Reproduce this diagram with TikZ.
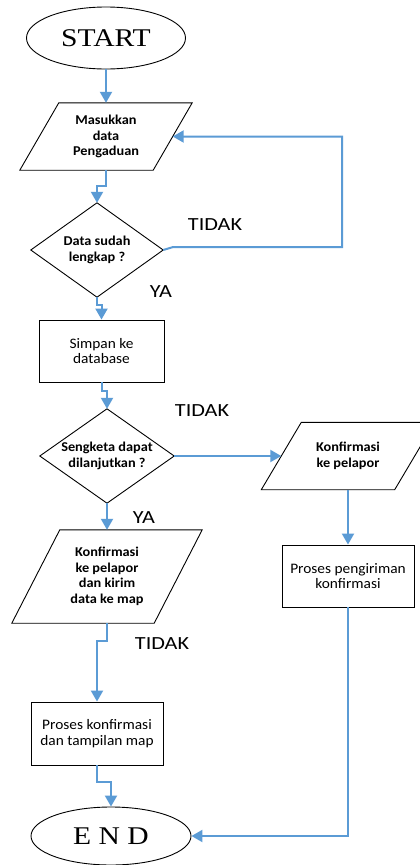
\documentclass[tikz,border=0pt]{standalone}
\usepackage{fontspec}
\setmainfont{Carlito}
\newfontfamily\bodyfont[FakeStretch=1.06]{Carlito}
\newfontfamily\labelfont[FakeStretch=1.2]{Carlito}
\newfontfamily\termfont[FakeStretch=1.16]{Liberation Serif}
\usetikzlibrary{shapes.geometric,arrows.meta}
\definecolor{flowblue}{RGB}{91,155,213}
\tikzset{
  outline/.style={draw=black, line width=0.9pt},
  terminal/.style={ellipse, outline, inner sep=0pt, font=\termfont\fontsize{25.5}{28}\selectfont},
  procbox/.style={rectangle, outline, inner sep=0pt, align=center, font=\bodyfont\fontsize{14.5}{15.5}\selectfont},
  iobox/.style={rectangle, inner sep=0pt, align=center, font=\bodyfont\bfseries\fontsize{13.5}{15.5}\selectfont},
  decbox/.style={rectangle, inner sep=0pt, align=center, font=\bodyfont\bfseries\fontsize{13.5}{15.5}\selectfont},
  answer/.style={inner sep=0pt, font=\labelfont\fontsize{18.5}{20}\selectfont},
  flow/.style={draw=flowblue, line width=2pt, -{Triangle[length=11pt,width=12pt]}},
}
% parallelogram drawn around a rectangular node, top edge shifted right
\newcommand{\slantframe}[2]{%
  \draw[outline] ([xshift=#2]#1.north west) -- ([xshift=#2]#1.north east)
    -- ([xshift=-#2]#1.south east) -- ([xshift=-#2]#1.south west) -- cycle;}
% diamond drawn through the side midpoints of a rectangular node
\newcommand{\diamondframe}[1]{%
  \draw[outline] (#1.north) -- (#1.east) -- (#1.south) -- (#1.west) -- cycle;}
\begin{document}
\begin{tikzpicture}[x=1pt,y=-1pt]
\clip (0,0) rectangle (420,865);
\fill[white] (0,0) rectangle (420,865);

% terminals
\node[terminal, minimum width=159pt, minimum height=62pt] (start) at (106,38) {START};
\node[terminal, minimum width=160pt, minimum height=58pt] (end) at (111,836) {E N D};

% input of the complaint
\node[iobox, minimum width=133pt, minimum height=67pt] (in1) at (106,136.5) {Masukkan\\data\\Pengaduan};
\slantframe{in1}{19.5pt}

% completeness check
\node[decbox, minimum width=132pt, minimum height=94pt] (d1) at (97,250) {Data sudah\\lengkap ?};
\diamondframe{d1}

\node[procbox, minimum width=125pt, minimum height=62pt] (s1) at (101.5,351) {Simpan ke\\database};

% dispute check
\node[decbox, minimum width=134pt, minimum height=94pt] (d2) at (107,456) {Sengketa dapat\\dilanjutkan ?};
\diamondframe{d2}

% rejected branch
\node[iobox, minimum width=133pt, minimum height=67pt] (kr) at (348,456) {Konfirmasi\\ke pelapor};
\slantframe{kr}{20pt}
\node[procbox, minimum width=132pt, minimum height=62pt] (pr) at (348,576) {Proses pengiriman\\konfirmasi};

% accepted branch
\node[iobox, minimum width=142pt, minimum height=93pt] (kl) at (107,576.5) {Konfirmasi\\ke pelapor\\dan kirim\\data ke map};
\slantframe{kl}{24pt}
\node[procbox, minimum width=132pt, minimum height=63pt] (pk) at (97,733.5) {Proses konfirmasi\\dan tampilan map};

% branch labels
\node[answer] (t1) at (215,225) {TIDAK};
\node[answer] (y1) at (161,292) {YA};
\node[answer] (t2) at (202,411) {TIDAK};
\node[answer] (y2) at (144,518) {YA};
\node[answer] (t3) at (162,643.5) {TIDAK};

\coordinate (loop) at (342,136.5);

% connectors
\draw[flow] (start.south) -- (in1.north);
\draw[flow] (in1.south) -- ++(0,16) -| (d1.north);
\draw[flow] (d1.east) -- ++(10,-3) -| (loop) -- (in1.east);
\draw[flow] (d1.south) -- ++(0,8) -| (s1.north);
\draw[flow] (s1.south) -- ++(0,9) -| (d2.north);
\draw[flow] (d2.east) -- (kr.west);
\draw[flow] (kr.south) -- (pr.north);
\draw[flow] (pr.south) |- (end.east);
\draw[flow] (d2.south) -- (kl.north);
\draw[flow] (kl.south) -- ++(0,18) -| (pk.north);
\draw[flow] (pk.south) -- ++(0,17) -| (end.north);
\end{tikzpicture}
\end{document}
